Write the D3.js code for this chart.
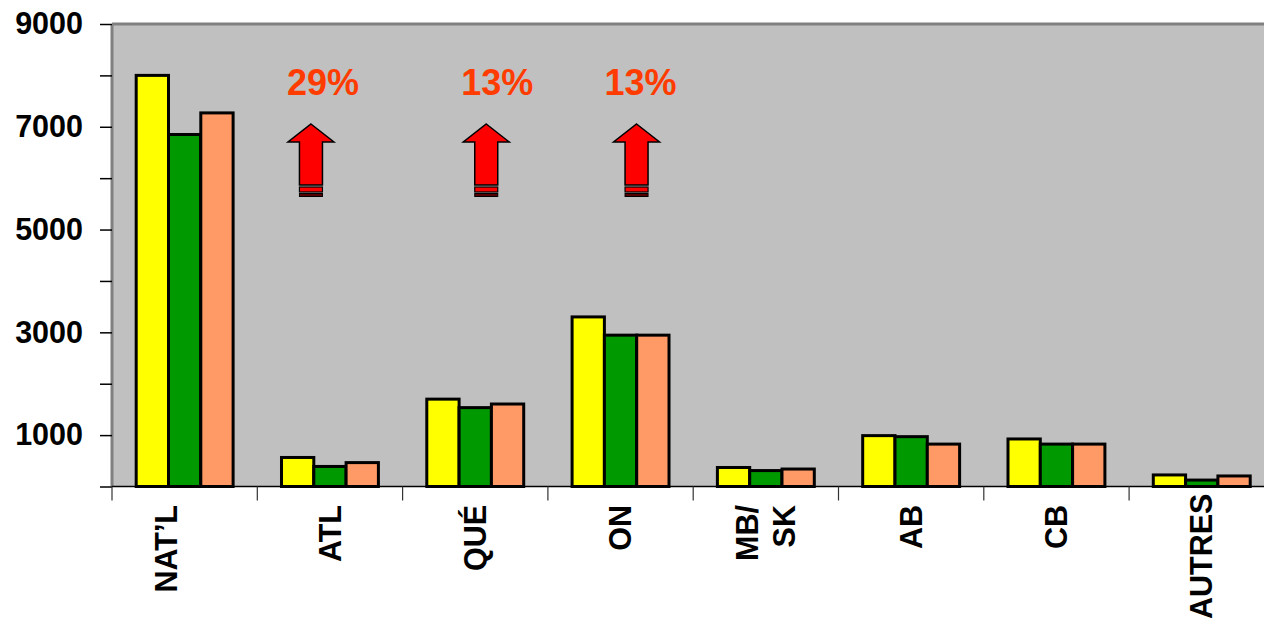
<!DOCTYPE html>
<html>
<head>
<meta charset="utf-8">
<script src="https://cdn.jsdelivr.net/npm/d3@7"></script>
<style>
  html, body { margin: 0; padding: 0; background: #fff; overflow: hidden; }
  text { font-family: "Liberation Sans", Arial, sans-serif; font-weight: bold; }
</style>
</head>
<body>
<div id="chart"></div>
<script>
// data
const categories = ["NAT’L", "ATL", "QUÉ", "ON", "MB/SK", "AB", "CB", "AUTRES"];
const categoryLines = [["NAT’L", ""], ["ATL"], ["QUÉ"], ["ON"], ["MB/", "SK"], ["AB"], ["CB"], ["AUTRES"]];
const seriesNames = ["Série 1", "Série 2", "Série 3"];
const serie1 = [8000, 565, 1700, 3300, 370, 990, 925, 225];
const serie2 = [6850, 390, 1535, 2945, 310, 970, 825, 125];
const serie3 = [7270, 465, 1605, 2945, 340, 825, 825, 205];
const yTicks = [0, 1000, 2000, 3000, 4000, 5000, 6000, 7000, 8000, 9000];
const yTickLabels = [1000, 3000, 5000, 7000, 9000];
const arrowCategories = ["ATL", "QUÉ", "ON"];
const arrowLabels = ["29%", "13%", "13%"];

// layout / style
const width = 1264, height = 621;
const margin = { top: 24, left: 112 };
const bandW = 145.3;
const plotW = bandW * categories.length;
const plotH = 462.5;
const colors = ["#ffff00", "#009900", "#ff9966"];
const arrowDx = [-19, 11, 16];   // arrow offset from category centre
const pctDx = [-7, 22, 20];      // percentage label offset from category centre

const svg = d3.select("#chart").append("svg")
  .attr("width", width)
  .attr("height", height);

const g = svg.append("g")
  .attr("transform", `translate(${margin.left},${margin.top})`);

const x0 = d3.scaleBand().domain(categories).range([0, plotW]).padding(0);
const groupW = x0.bandwidth() * 0.667;
const x1 = d3.scaleBand().domain(seriesNames)
  .range([(x0.bandwidth() - groupW) / 2, (x0.bandwidth() + groupW) / 2]);
const y = d3.scaleLinear().domain([0, 9000]).range([plotH, 0]);

// plot background
g.append("rect")
  .attr("width", plotW)
  .attr("height", plotH)
  .attr("fill", "#c0c0c0");

// bars
const series = [serie1, serie2, serie3];
series.forEach((vals, si) => {
  g.append("g").selectAll("rect")
    .data(vals.map((v, i) => ({ c: categories[i], v: v })))
    .join("rect")
    .attr("x", d => x0(d.c) + x1(seriesNames[si]))
    .attr("y", d => y(d.v))
    .attr("width", x1.bandwidth())
    .attr("height", d => plotH - y(d.v))
    .attr("fill", colors[si])
    .attr("stroke", "#000")
    .attr("stroke-width", 3);
});

// plot borders
g.append("line")
  .attr("x1", 0).attr("x2", plotW).attr("y1", 0).attr("y2", 0)
  .attr("stroke", "#808080").attr("stroke-width", 3);
g.append("line")
  .attr("x1", 0).attr("x2", 0).attr("y1", 0).attr("y2", plotH)
  .attr("stroke", "#808080").attr("stroke-width", 3);
g.append("line")
  .attr("x1", 0).attr("x2", plotW).attr("y1", plotH).attr("y2", plotH)
  .attr("stroke", "#000").attr("stroke-width", 1.5);

// y axis
const yAxis = g.append("g")
  .call(d3.axisLeft(y)
    .tickValues(yTicks)
    .tickSize(12)
    .tickPadding(17)
    .tickFormat(d => yTickLabels.includes(d) ? d : ""));
yAxis.select(".domain").remove();
yAxis.selectAll(".tick line").attr("stroke", "#000").attr("stroke-width", 1.5);
yAxis.selectAll(".tick text")
  .attr("fill", "#000")
  .style("font-size", "30.5px")
  .style("font-family", '"Liberation Sans", Arial, sans-serif')
  .style("font-weight", "bold");

// x ticks at band edges
const xEdges = categories.map(c => x0(c)).concat([plotW]);
g.append("g").selectAll("line")
  .data(xEdges)
  .join("line")
  .attr("x1", d => d).attr("x2", d => d)
  .attr("y1", plotH).attr("y2", plotH + 14)
  .attr("stroke", "#333").attr("stroke-width", 1.2);

// x labels, rotated
const labelTop = 505;
categories.forEach((c, i) => {
  const lines = categoryLines[i];
  const cx = margin.left + x0(c) + x0.bandwidth() / 2;
  lines.forEach((ln, li) => {
    const off = (li - (lines.length - 1) / 2) * 37;
    const t = svg.append("text")
      .attr("text-anchor", "end")
      .attr("dy", "0.35em")
      .style("font-size", "30.5px")
      .attr("fill", "#000")
      .text(ln);
    const len = t.node().getComputedTextLength();
    const top = Math.min(labelTop, height - 2 - len);
    t.attr("transform", `translate(${cx + off},${top}) rotate(-90)`);
  });
});

// arrows with percentage labels
const arrowPath = "M0,0 L23,18 L11.5,18 L11.5,61 L-11.5,61 L-11.5,18 L-23,18 Z";
arrowCategories.forEach((c, i) => {
  const cx = x0(c) + x0.bandwidth() / 2;
  const a = g.append("g")
    .attr("transform", `translate(${cx + arrowDx[i]},100)`);
  a.append("path")
    .attr("d", arrowPath)
    .attr("fill", "#ff0000")
    .attr("stroke", "#000")
    .attr("stroke-width", 1.5);
  a.append("rect")
    .attr("x", -11.5).attr("y", 63).attr("width", 23).attr("height", 5)
    .attr("fill", "#ff0000").attr("stroke", "#000").attr("stroke-width", 1.2);
  a.append("rect")
    .attr("x", -11.5).attr("y", 69.5).attr("width", 23).attr("height", 3)
    .attr("fill", "#550000").attr("stroke", "#000").attr("stroke-width", 1);

  g.append("text")
    .attr("x", cx + pctDx[i])
    .attr("y", 71)
    .attr("text-anchor", "middle")
    .attr("fill", "#ff3c00")
    .style("font-size", "36px")
    .text(arrowLabels[i]);
});
</script>
</body>
</html>
